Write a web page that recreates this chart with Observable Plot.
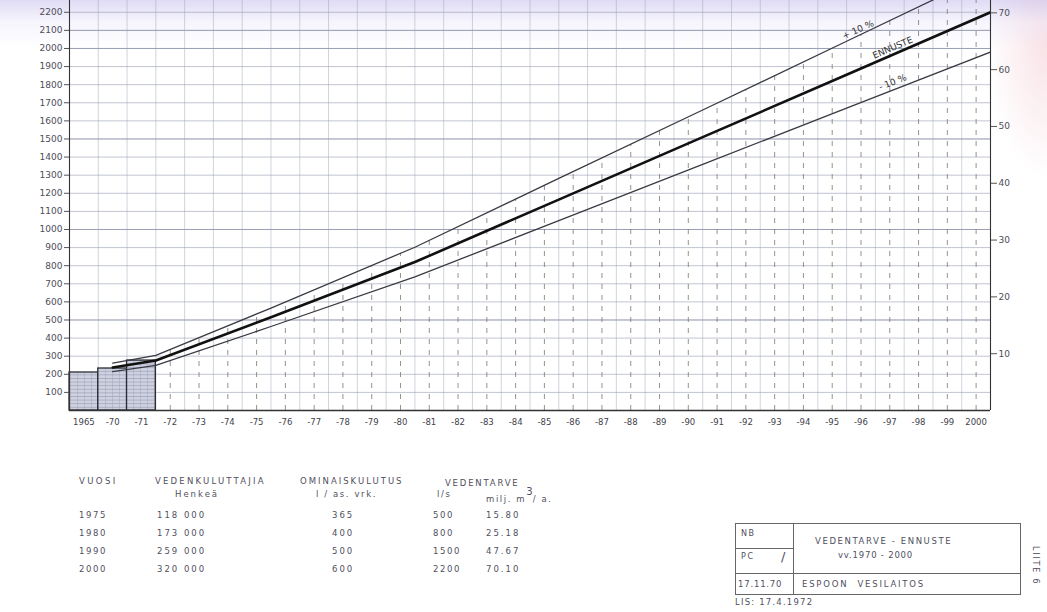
<!DOCTYPE html>
<html>
<head>
<meta charset="utf-8">
<script src="https://cdn.jsdelivr.net/npm/d3@7"></script>
<script src="https://cdn.jsdelivr.net/npm/@observablehq/plot@0.6"></script>
<style>
  html, body { margin: 0; padding: 0; background: #fff; }
  #page { position: relative; width: 1047px; height: 612px; overflow: hidden;
    font-family: "DejaVu Sans", sans-serif; color: #4a4a55;
    background:
      linear-gradient(to bottom, rgba(196,190,236,0.55) 0px, rgba(230,226,248,0.35) 22px, rgba(255,255,255,0) 48px),
      radial-gradient(ellipse 60px 140px at 1047px 40px, rgba(240,190,200,0.45), rgba(255,255,255,0)),
      #fff; }
  #chart { position: absolute; left: 0; top: 0; }
  .t { position: absolute; font-size: 8.5px; letter-spacing: 1.6px; white-space: nowrap; color: #505060; }
  .box { position: absolute; border: 1px solid #666; }
  .hl { position: absolute; height: 0; border-top: 1px solid #666; }
  .vl { position: absolute; width: 0; border-left: 1px solid #666; }
</style>
</head>
<body>
<div id="page">
  <div id="chart"></div>
</div>
<script>
// ---------- data ----------
const xLabels = ["1965","-70","-71","-72","-73","-74","-75","-76","-77","-78","-79","-80","-81","-82","-83","-84","-85","-86","-87","-88","-89","-90","-91","-92","-93","-94","-95","-96","-97","-98","-99","2000"];
const yTicks = [100,200,300,400,500,600,700,800,900,1000,1100,1200,1300,1400,1500,1600,1700,1800,1900,2000,2100,2200];
const rightTicks = [10,20,30,40,50,60,70];

// observed consumption (l/s), bars
const barLabels = ["1965","-70","-71"];
const barValues = [210, 232, 276];

// forecast lines (l/s) at year positions
const lineYears = [1969.5, 1971, 1975, 1980, 1985, 1990, 1995, 2000];
const forecast  = [238, 276, 515, 820, 1165, 1510, 1855, 2200];
const upper     = [262, 304, 566, 902, 1282, 1660, 2040, 2420];
const lower     = [215, 249, 464, 738, 1049, 1360, 1670, 1980];

// table
const tYears   = ["1975","1980","1990","2000"];
const tPeople  = ["118 000","173 000","259 000","320 000"];
const tSpecific= ["365","400","500","600"];
const tLs      = ["500","800","1500","2200"];
const tMill    = ["15.80","25.18","47.67","70.10"];

// ---------- chart ----------
const slot = yr => yr - 1968;                 // year-end position on the slot axis
const lineData = lineYears.map((yr, i) => ({x: slot(yr), f: forecast[i], u: upper[i], l: lower[i]}));
const upperAt = d3.scaleLinear().domain(lineData.map(d => d.x)).range(upper);
const forecastAt = d3.scaleLinear().domain(lineData.map(d => d.x)).range(forecast);
const lowerAt = d3.scaleLinear().domain(lineData.map(d => d.x)).range(lower);
const bars = barLabels.map((lab, i) => ({i: xLabels.indexOf(lab), v: barValues[i]}));
const cellEdges = d3.range(1, xLabels.length);
const guideCells = d3.range(3, xLabels.length).map(i => i + 0.5);
const factor = 2200 / 70.10;   // l/s per milj. m3/a

const labelFont = {fontFamily: "DejaVu Sans, sans-serif", fontSize: 9, fill: "#333", letterSpacing: "1px"};

const plot = Plot.plot({
  width: 1047,
  height: 445,
  marginLeft: 69,
  marginRight: 57,
  marginTop: 0,
  marginBottom: 35,
  style: {background: "transparent", fontFamily: "DejaVu Sans, sans-serif", color: "#555"},
  x: {type: "linear", domain: [0, xLabels.length], axis: null, label: null},
  y: {domain: [0, 2265], axis: null, label: null},
  marks: [
    // graph paper
    Plot.ruleY(yTicks, {stroke: "#8f96ad", strokeWidth: 0.8, strokeOpacity: 0.7}),
    Plot.ruleY(yTicks.filter(v => v % 500 === 0 || v === 2100), {stroke: "#6d7390", strokeWidth: 0.9, strokeOpacity: 0.5}),
    Plot.ruleX(cellEdges, {stroke: "#9aa0b6", strokeWidth: 0.7, strokeOpacity: 0.65}),
    // dashed guides below forecast band
    Plot.ruleX(guideCells, {x: d => d, y1: 0, y2: d => Math.min(upperAt(d), 2265), stroke: "#777", strokeWidth: 0.8, strokeDasharray: "5,6"}),
    // observed bars
    Plot.rect(bars, {x1: d => d.i, x2: d => d.i + 1, y1: 0, y2: "v", fill: "url(#hatch)", stroke: "#2c2c36", strokeWidth: 1.3}),
    // forecast band
    Plot.line(lineData, {x: "x", y: "u", stroke: "#3a3a44", strokeWidth: 1.3, clip: true}),
    Plot.line(lineData, {x: "x", y: "l", stroke: "#3a3a44", strokeWidth: 1.3, clip: true}),
    Plot.line(lineData, {x: "x", y: "f", stroke: "#111", strokeWidth: 2.6, clip: true}),
    // curve labels
    Plot.text([slot(1995.4)], {x: d => d, y: d => upperAt(d), text: () => "+ 10 %", rotate: -24, dy: -6, ...labelFont}),
    Plot.text([slot(1996.6)], {x: d => d, y: d => forecastAt(d), text: () => "ENNUSTE", rotate: -23, dy: -7, ...labelFont}),
    Plot.text([slot(1996.6)], {x: d => d, y: d => lowerAt(d), text: () => "- 10 %", rotate: -21, dy: -8, ...labelFont}),
    // frame
    Plot.ruleX([0, xLabels.length], {stroke: "#333", strokeWidth: 1.1}),
    Plot.ruleY([0], {stroke: "#333", strokeWidth: 1.4}),
    // axes
    Plot.axisY(yTicks, {anchor: "left", label: null, tickSize: 5, tickPadding: 2, fontSize: 9, letterSpacing: "0.6px", fill: "#4d4d5a", stroke: "#555",
      tickFormat: d => String(d)}),
    Plot.axisY(rightTicks.map(v => v * factor), {anchor: "right", label: null, tickSize: 6, tickPadding: 2, fontSize: 9, letterSpacing: "0.6px", fill: "#4d4d5a", stroke: "#555",
      tickFormat: d => String(Math.round(d / factor))}),
    Plot.axisX(xLabels.map((_, i) => i + 0.5), {anchor: "bottom", label: null, tickSize: 0, tickPadding: 8, fontSize: 8.5, letterSpacing: "0.5px", fill: "#3f3f4c",
      tickFormat: d => xLabels[Math.floor(d)]})
  ]
});

// hatch pattern for the observed bars
const defs = document.createElementNS("http://www.w3.org/2000/svg", "defs");
defs.innerHTML = `<pattern id="hatch" patternUnits="userSpaceOnUse" width="7" height="3.6">
  <rect width="7" height="3.6" fill="#ced1e0"/>
  <path d="M0 0.3 H7" stroke="#878ba2" stroke-width="0.6"/>
  <path d="M0.3 0 V3.6" stroke="#9a9eb2" stroke-width="0.5"/>
</pattern>`;
plot.insertBefore(defs, plot.firstChild);
document.getElementById("chart").appendChild(plot);

// ---------- table & title block ----------
const page = document.getElementById("page");
function put(text, x, y, extra) {
  const s = document.createElement("span");
  s.className = "t";
  s.innerHTML = text;
  s.style.left = x + "px";
  s.style.top = y + "px";
  if (extra) Object.assign(s.style, extra);
  page.appendChild(s);
  return s;
}
function line(cls, x, y, len) {
  const d = document.createElement("div");
  d.className = cls;
  d.style.left = x + "px"; d.style.top = y + "px";
  if (cls === "hl") d.style.width = len + "px"; else d.style.height = len + "px";
  page.appendChild(d);
}
put("VUOSI", 79, 476, {letterSpacing: "2.4px"});
put("VEDENKULUTTAJIA", 155, 476, {letterSpacing: "2.2px"});
put("Henkeä", 175, 489, {letterSpacing: "2px"});
put("OMINAISKULUTUS", 300, 476, {letterSpacing: "2px"});
put("l / as. vrk.", 316, 489);
put("VEDENTARVE", 445, 478, {letterSpacing: "1.8px"});
put("l/s", 437, 489);
put("milj. m<sup style='font-size:10px;position:relative;top:-3px;letter-spacing:0'>3</sup>/ a.", 486, 489);

const rowY = [510, 528, 546, 564];
tYears.forEach((v, i) => put(v, 79, rowY[i]));
tPeople.forEach((v, i) => put(v, 157, rowY[i], {letterSpacing: "2px"}));
tSpecific.forEach((v, i) => put(v, 332, rowY[i], {letterSpacing: "2px"}));
tLs.forEach((v, i) => put(v, 433, rowY[i]));
tMill.forEach((v, i) => put(v, 486, rowY[i], {letterSpacing: "2px"}));

// title block
const bx = document.createElement("div");
bx.className = "box";
Object.assign(bx.style, {left: "735px", top: "523px", width: "284px", height: "70px"});
page.appendChild(bx);
line("vl", 793, 523, 71);
line("hl", 735, 573, 285);
line("hl", 735, 548, 58);
put("NB", 741, 529, {fontSize: "8px"});
put("PC", 741, 552, {fontSize: "8px"});
put("/", 781, 549, {fontSize: "13px", letterSpacing: "0"});
put("VEDENTARVE - ENNUSTE", 815, 536);
put("vv.1970 - 2000", 838, 550, {letterSpacing: "0.8px"});
put("17.11.70", 738, 579, {letterSpacing: "0.8px"});
put("ESPOON&nbsp; VESILAITOS", 802, 579, {letterSpacing: "1.8px"});
put("LIS: 17.4.1972", 735, 597, {letterSpacing: "1.2px"});
put("LIITE 6", 1031, 546, {writingMode: "vertical-rl", fontSize: "8px", letterSpacing: "1.8px"});
</script>
</body>
</html>
